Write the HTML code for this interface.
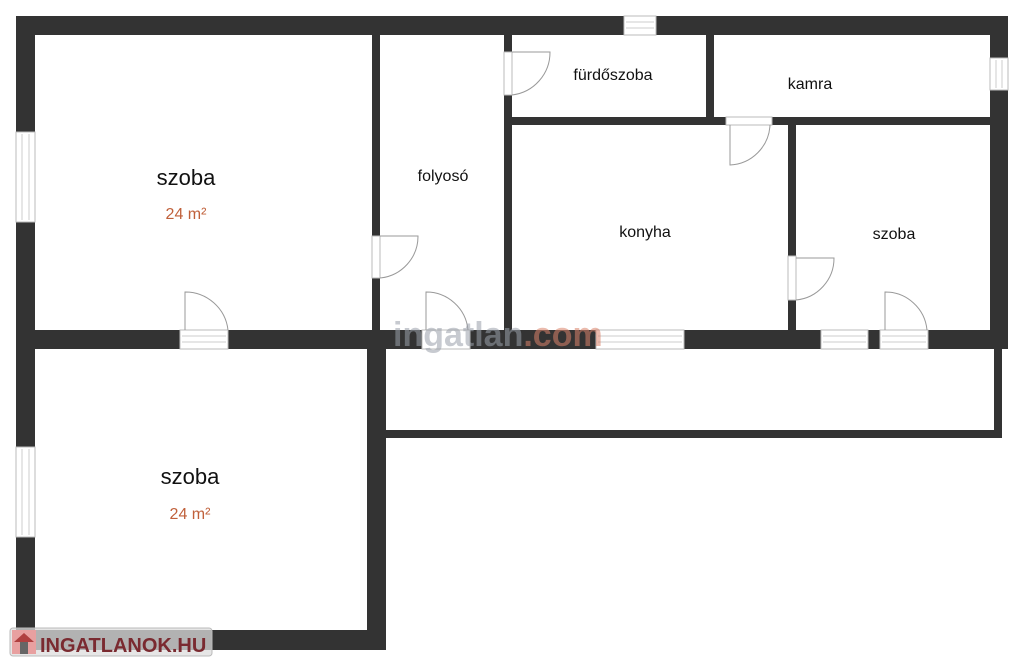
<!DOCTYPE html>
<html><head><meta charset="utf-8"><style>
html,body{margin:0;padding:0;background:#fff;width:1024px;height:667px;overflow:hidden}
svg{display:block}
text{font-family:"Liberation Sans",sans-serif}
</style></head><body>
<svg width="1024" height="667" viewBox="0 0 1024 667">
<g fill="#333">
<!-- outer -->
<rect x="16" y="16" width="992" height="19"/>
<rect x="16" y="16" width="19" height="634"/>
<rect x="990" y="16" width="18" height="333"/>
<rect x="16" y="330" width="992" height="19"/>
<rect x="16" y="630" width="370" height="20"/>
<rect x="367" y="330" width="19" height="320"/>
<!-- interior -->
<rect x="372" y="35" width="8" height="295"/>
<rect x="504" y="35" width="8" height="295"/>
<rect x="504" y="117" width="486" height="8"/>
<rect x="706" y="35" width="8" height="82"/>
<rect x="788" y="125" width="8" height="205"/>
<!-- corridor -->
<rect x="386" y="430" width="616" height="8"/>
<rect x="994" y="349" width="8" height="89"/>
</g>
<!-- openings (windows/doors) -->
<g fill="#fff" stroke="#bbb" stroke-width="1">
<rect x="624" y="16" width="32" height="19"/>
<rect x="16" y="132" width="19" height="90"/>
<rect x="16" y="447" width="19" height="90"/>
<rect x="990" y="58" width="18" height="32"/>
<rect x="180" y="330" width="48" height="19"/>
<rect x="422" y="330" width="48" height="19"/>
<rect x="596" y="330" width="88" height="19"/>
<rect x="821" y="330" width="47" height="19"/>
<rect x="880" y="330" width="48" height="19"/>
<rect x="372" y="236" width="8" height="42"/>
<rect x="504" y="52" width="8" height="43"/>
<rect x="788" y="256" width="8" height="44"/>
<rect x="726" y="117" width="46" height="8"/>
</g>
<g stroke="#ccc" stroke-width="1">
<line x1="626" y1="22" x2="654" y2="22"/><line x1="626" y1="28" x2="654" y2="28"/>
<line x1="22" y1="134" x2="22" y2="220"/><line x1="29" y1="134" x2="29" y2="220"/>
<line x1="22" y1="449" x2="22" y2="535"/><line x1="29" y1="449" x2="29" y2="535"/>
<line x1="996" y1="60" x2="996" y2="88"/><line x1="1002" y1="60" x2="1002" y2="88"/>
<line x1="182" y1="336" x2="226" y2="336"/><line x1="182" y1="342" x2="226" y2="342"/>
<line x1="598" y1="336" x2="682" y2="336"/><line x1="598" y1="342" x2="682" y2="342"/>
<line x1="823" y1="336" x2="866" y2="336"/><line x1="823" y1="342" x2="866" y2="342"/>
<line x1="882" y1="336" x2="926" y2="336"/><line x1="882" y1="342" x2="926" y2="342"/>
</g>
<!-- door arcs -->
<g fill="none" stroke="#999" stroke-width="1">
<path d="M185 330 V292 A43 43 0 0 1 228 330"/>
<path d="M426 330 V292 A42 42 0 0 1 468 330"/>
<path d="M885 330 V292 A42 42 0 0 1 927 330"/>
<path d="M380 236 H418 A42 42 0 0 1 380 278"/>
<path d="M512 52 H550 A43 43 0 0 1 512 95"/>
<path d="M796 258 H834 A42 42 0 0 1 796 300"/>
<path d="M730 125 V165 A42 42 0 0 0 770 125"/>
</g>
<!-- labels -->
<g fill="#111" text-anchor="middle">
<text x="186" y="185" font-size="22">szoba</text>
<text x="190" y="484" font-size="22">szoba</text>
<text x="443" y="181" font-size="16">folyosó</text>
<text x="613" y="80" font-size="16">fürdőszoba</text>
<text x="810" y="89" font-size="16">kamra</text>
<text x="645" y="237" font-size="16">konyha</text>
<text x="894" y="239" font-size="16">szoba</text>
</g>
<g fill="#c0603a" text-anchor="middle" font-size="16">
<text x="186" y="219">24 m²</text>
<text x="190" y="519">24 m²</text>
</g>
<!-- watermark -->
<text x="393" y="346" font-size="34" fill="#9aa0aa" opacity="0.55" font-weight="bold">ingatlan<tspan fill="#d9826a">.com</tspan></text>
<!-- logo -->
<rect x="10" y="628" width="202" height="28" rx="3" fill="#ddd" fill-opacity="0.75" stroke="#bbb"/>
<rect x="12" y="630" width="24" height="24" fill="#e8a0a0"/>
<path d="M14 642 L24 633 L34 642 Z" fill="#b04040"/>
<rect x="20" y="642" width="8" height="12" fill="#666"/>
<text x="40" y="652" font-size="20" font-weight="bold" fill="#7a2a30">INGATLANOK.HU</text>
</svg>
</body></html>
